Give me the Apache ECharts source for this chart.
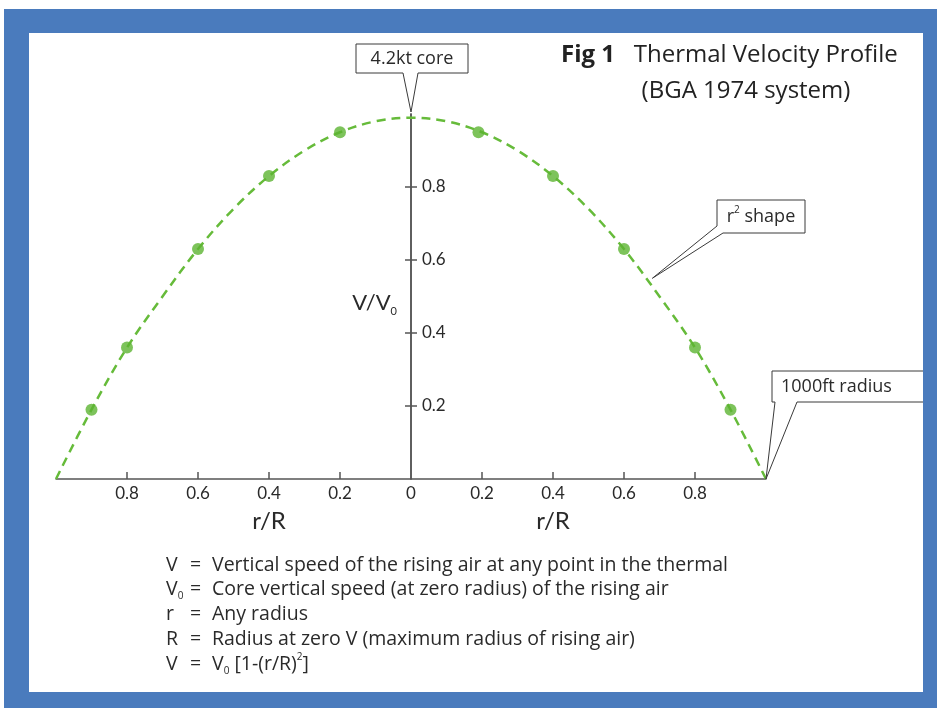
<!DOCTYPE html>
<html><head><meta charset="utf-8">
<script src="https://cdn.jsdelivr.net/npm/echarts@6/dist/echarts.min.js"></script>
<style>html,body{margin:0;padding:0;background:#fff}#c{width:940px;height:708px}</style>
</head><body><div id="c"></div>
<script>
// ---- data ----
const curveR = [-1, -0.9, -0.8, -0.7, -0.6, -0.5, -0.4, -0.3, -0.2, -0.1, 0, 0.1, 0.2, 0.3, 0.4, 0.5, 0.6, 0.7, 0.8, 0.9, 1];
const curveV = [0, 0.19, 0.36, 0.50, 0.63, 0.74, 0.83, 0.90, 0.95, 0.98, 0.99, 0.98, 0.95, 0.90, 0.83, 0.74, 0.63, 0.50, 0.36, 0.19, 0];
const pointsR = [-0.9, -0.8, -0.6, -0.4, -0.2, 0.19, 0.4, 0.6, 0.8, 0.9];
const pointsV = [0.19, 0.36, 0.63, 0.83, 0.95, 0.95, 0.83, 0.63, 0.36, 0.19];
const xTickValues = [-0.8, -0.6, -0.4, -0.2, 0.2, 0.4, 0.6, 0.8];
const xLabelValues = [-0.8, -0.6, -0.4, -0.2, 0, 0.2, 0.4, 0.6, 0.8];
const xNameAt = [-0.4, 0.4];
const yTickValues = [0.2, 0.4, 0.6, 0.8];
const calloutAnchors = [[0, 1.0], [0.68, 0.55], [1, 0]];
const calloutTexts = ['4.2kt core', '{t|r}{sup|2}{t| shape}', '1000ft radius'];
const legendSymbols = ['{m|V}', '{m|V}{s|0}', '{m|r}', '{m|R}', '{m|V}'];
const legendTexts = [
  '{m|Vertical speed of the rising air at any point in the thermal}',
  '{m|Core vertical speed (at zero radius) of the rising air}',
  '{m|Any radius}',
  '{m|Radius at zero V (maximum radius of rising air)}',
  '{m|V}{s|0}{m| [1-(r/R)}{sup|2}{m|]}'
];
const titleMain = '{b|Fig 1}{n|   Thermal Velocity Profile}';
const titleSub = '(BGA 1974 system)';

// ---- layout & styling ----
const X_MIN = -1, X_MAX = 1;
const GRID = {left: 56, right: 174, top: 114, bottom: 229};
const GRID_W = 940 - GRID.left - GRID.right;
const Y_AXIS_SHIFT = -GRID_W * (0 - X_MIN) / (X_MAX - X_MIN); // put axis at r = 0
const FONT = 'Lato';
const TFONT = 'Open Sans';
const TXT = '#2a2a2a';
const AX = '#555555';
const GREEN_LINE = '#66bb3a';
const GREEN_DOT = '#5cb432';
const BLUE = '#4a7bbd';

const chart = echarts.init(document.getElementById('c'), null, {renderer: 'canvas'});

const option = {
  backgroundColor: '#ffffff',
  animation: false,
  grid: GRID,
  xAxis: {
    type: 'value', min: X_MIN, max: X_MAX,
    splitLine: {show: false},
    axisLine: {onZero: false, lineStyle: {color: AX, width: 1.5}},
    axisTick: {inside: true, length: 7, customValues: xTickValues, lineStyle: {color: AX, width: 1.5}},
    axisLabel: {
      customValues: xLabelValues, margin: 4, color: TXT,
      formatter: function (v) {
        const s = String(Math.abs(Math.round(v * 10) / 10));
        const named = xNameAt.some(function (n) { return Math.abs(n - v) < 1e-6; });
        return named ? '{n|' + s + '}\n{t|r/R}' : '{n|' + s + '}';
      },
      rich: {
        n: {fontFamily: FONT, fontSize: 17, lineHeight: 22, color: TXT},
        t: {fontFamily: FONT, fontSize: 24, lineHeight: 32, color: TXT}
      }
    }
  },
  yAxis: [{
    type: 'value', min: 0, max: 1,
    position: 'left', offset: Y_AXIS_SHIFT,
    splitLine: {show: false},
    axisLine: {onZero: false, lineStyle: {color: AX, width: 1.5}},
    axisTick: {length: 6, customValues: yTickValues, lineStyle: {color: AX, width: 1.5}},
    axisLabel: {inside: true, margin: 11, customValues: yTickValues, color: TXT,
      fontFamily: FONT, fontSize: 17, formatter: function (v) { return String(v); }},
    name: '{a|V/V}{s|0}', nameLocation: 'middle', nameRotate: 0, nameGap: 14,
    nameTextStyle: {padding: [12, 0, 0, 0], rich: {
      a: {fontFamily: FONT, fontSize: 22, color: TXT, lineHeight: 28},
      s: {fontFamily: FONT, fontSize: 11, color: TXT, verticalAlign: 'bottom', lineHeight: 16}
    }}
  }, {
    type: 'value', min: 0, max: 1,
    position: 'left',
    splitLine: {show: false},
    axisLine: {onZero: true, onZeroAxisIndex: 0, lineStyle: {color: AX, width: 1.5}},
    axisTick: {inside: true, length: 6, customValues: yTickValues, lineStyle: {color: AX, width: 1.5}},
    axisLabel: {show: false}
  }],
  series: [{
    type: 'line',
    data: curveR.map(function (r, i) { return [r, curveV[i]]; }),
    smooth: 0.35,
    showSymbol: false,
    lineStyle: {color: GREEN_LINE, width: 2.5, type: [9, 6]},
    z: 2
  }, {
    type: 'scatter',
    data: pointsR.map(function (r, i) { return [r, pointsV[i]]; }),
    symbolSize: 12,
    itemStyle: {color: GREEN_DOT},
    z: 3
  }]
};
chart.setOption(option);

const px = function (p) { return chart.convertToPixel({seriesIndex: 0}, p); };
const tipCore = px(calloutAnchors[0]);
const tipShape = px(calloutAnchors[1]);
const tipEdge = px(calloutAnchors[2]);

const boxStyle = {fill: '#ffffff', stroke: '#3a3a3a', lineWidth: 1};
const boxFont = {fontFamily: TFONT, fontSize: 18, fill: TXT};
const rich = {
  m: {fontFamily: TFONT, fontSize: 19.5, fill: TXT, lineHeight: 24},
  s: {fontFamily: TFONT, fontSize: 10, fill: TXT, verticalAlign: 'bottom', lineHeight: 14},
  sup: {fontFamily: TFONT, fontSize: 10, fill: TXT, verticalAlign: 'top', lineHeight: 14},
  t: {fontFamily: TFONT, fontSize: 18, fill: TXT, lineHeight: 24}
};

const graphics = [];
// frame
graphics.push({type: 'rect', z: 100, shape: {x: 4, y: 9, width: 933, height: 24}, style: {fill: BLUE}, silent: true});
graphics.push({type: 'rect', z: 100, shape: {x: 4, y: 9, width: 25, height: 699}, style: {fill: BLUE}, silent: true});
graphics.push({type: 'rect', z: 100, shape: {x: 923, y: 9, width: 14, height: 699}, style: {fill: BLUE}, silent: true});
graphics.push({type: 'rect', z: 100, shape: {x: 4, y: 692, width: 933, height: 16}, style: {fill: BLUE}, silent: true});

// callout: core
graphics.push({type: 'polygon', z: 10, shape: {points: [
  [356, 44], [468, 44], [468, 73], [418, 73], [tipCore[0], tipCore[1] - 2], [403, 73], [356, 73]
]}, style: boxStyle});
graphics.push({type: 'text', z: 11, x: 412, y: 59, style: Object.assign({text: calloutTexts[0], align: 'center', verticalAlign: 'middle'}, boxFont)});
// callout: r^2 shape
graphics.push({type: 'polygon', z: 10, shape: {points: [
  [717, 200], [805, 200], [805, 233], [723, 233], [tipShape[0], tipShape[1]], [717, 226]
]}, style: boxStyle});
graphics.push({type: 'text', z: 11, x: 761, y: 217, style: {text: calloutTexts[1], rich: rich, align: 'center', verticalAlign: 'middle', fontFamily: TFONT, fontSize: 18, fill: TXT}});
// callout: 1000ft radius
graphics.push({type: 'polygon', z: 10, shape: {points: [
  [772, 371], [935, 371], [935, 402], [797, 402], [tipEdge[0], tipEdge[1]], [775, 402], [772, 402]
]}, style: boxStyle});
graphics.push({type: 'text', z: 11, x: 781, y: 387, style: Object.assign({text: calloutTexts[2], align: 'left', verticalAlign: 'middle'}, boxFont)});

// titles
graphics.push({type: 'text', z: 11, x: 561, y: 55, style: {text: titleMain, align: 'left', verticalAlign: 'middle', rich: {
  b: {fontFamily: TFONT, fontSize: 24, fontWeight: 'bold', fill: '#222'},
  n: {fontFamily: TFONT, fontSize: 24, fill: '#222'}
}}});
graphics.push({type: 'text', z: 11, x: 746, y: 91, style: {text: titleSub, align: 'center', verticalAlign: 'middle', fontFamily: TFONT, fontSize: 24, fill: '#222'}});

// explanation lines
const rowY = [565, 589, 614, 639, 664];
legendSymbols.forEach(function (sym, i) {
  graphics.push({type: 'text', z: 11, x: 166, y: rowY[i], style: {text: sym, rich: rich, align: 'left', verticalAlign: 'middle', fontFamily: TFONT, fontSize: 19.5, fill: TXT}});
  graphics.push({type: 'text', z: 11, x: 190, y: rowY[i], style: {text: '=', align: 'left', verticalAlign: 'middle', fontFamily: TFONT, fontSize: 19.5, fill: TXT}});
  graphics.push({type: 'text', z: 11, x: 212, y: rowY[i], style: {text: legendTexts[i], rich: rich, align: 'left', verticalAlign: 'middle', fontFamily: TFONT, fontSize: 19.5, fill: TXT}});
});

chart.setOption({graphic: graphics});
</script>
</body></html>
